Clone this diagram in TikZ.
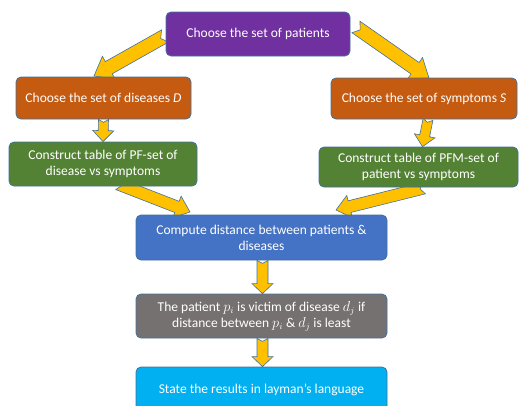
\documentclass[tikz,border=0pt]{standalone}
\usepackage{fontspec}
\setmainfont{Carlito}
\usetikzlibrary{calc}
\definecolor{cpurple}{HTML}{7030A0}
\definecolor{corange}{HTML}{C55A11}
\definecolor{cgreen}{HTML}{548235}
\definecolor{cblue}{HTML}{4472C4}
\definecolor{cgray}{HTML}{767171}
\definecolor{ccyan}{HTML}{00B0F0}
\definecolor{cyellow}{HTML}{FFC000}
\definecolor{cedge}{HTML}{41719C}
% notched block arrow between named coordinates: #1 tail, #2 tip, #3 shaft half width, #4 head half width, #5 head length, #6 notch depth
\newcommand{\blockarr}[6]{%
  \coordinate (ba-b) at ($(#2)!#5!(#1)$);
  \coordinate (ba-t1) at ($(#1)!#3!90:(#2)$);
  \coordinate (ba-t2) at ($(#1)!#3!-90:(#2)$);
  \coordinate (ba-n) at ($(#1)!#6!(#2)$);
  \coordinate (ba-s1) at ($(ba-b)!#3!-90:(#1)$);
  \coordinate (ba-s2) at ($(ba-b)!#3!90:(#1)$);
  \coordinate (ba-h1) at ($(ba-b)!#4!-90:(#1)$);
  \coordinate (ba-h2) at ($(ba-b)!#4!90:(#1)$);
  \draw[blockarrow] (ba-t1) -- (ba-n) -- (ba-t2) -- (ba-s2) -- (ba-h2) -- (#2)
    -- (ba-h1) -- (ba-s1) -- cycle;}
\begin{document}
\begin{tikzpicture}[x=1pt,y=-1pt,
  box/.style={draw=cedge, line width=0.8pt, rounded corners=5pt, text=white,
    font=\fontsize{13.5}{16}\selectfont, align=center, inner sep=0pt},
  blockarrow/.style={draw=cedge, fill=cyellow, line width=0.6pt, line join=miter}]
\useasboundingbox (0,0) rectangle (520,405);
% coordinates for diagonal arrow ends
\coordinate (a1t) at (165,36);  \coordinate (a1h) at (94,76);
\coordinate (a2t) at (356,27);  \coordinate (a2h) at (429,78);
\coordinate (a3t) at (118,184); \coordinate (a3h) at (190,212);
\coordinate (a4t) at (424,188); \coordinate (a4h) at (336,210);
\blockarr{a1t}{a1h}{7pt}{13pt}{17pt}{5pt}
\blockarr{a2t}{a2h}{7pt}{13pt}{17pt}{5pt}
\blockarr{a3t}{a3h}{6pt}{11.5pt}{14pt}{4pt}
\blockarr{a4t}{a4h}{6pt}{11.5pt}{14pt}{4pt}
% boxes
\node[box, fill=cpurple, minimum width=184pt, minimum height=44pt] (top) at (258,34) {Choose the set of patients};
\node[box, fill=corange, minimum width=175pt, minimum height=42pt] (lo) at (103.5,98) {Choose the set of diseases \textit{D}};
\node[box, fill=corange, minimum width=186pt, minimum height=41pt] (ro) at (424,98.5) {Choose the set of symptoms \textit{S}};
\node[box, fill=cgreen, minimum width=188pt, minimum height=44pt] (lg) at (103,164) {Construct table of PF-set of\\disease vs symptoms};
\node[box, fill=cgreen, minimum width=199pt, minimum height=40pt] (rg) at (418.5,167) {Construct table of PFM-set of\\patient vs symptoms};
\node[box, fill=cblue, minimum width=251pt, minimum height=45pt] (bl) at (261.5,237.5) {Compute distance between patients \&\\diseases};
\node[box, fill=cgray, minimum width=251pt, minimum height=44pt] (gr) at (261.5,316) {The patient $p_i$ is victim of disease $d_j$ if\\distance between $p_i$ \& $d_j$ is least};
\node[box, fill=ccyan, minimum width=251pt, minimum height=46pt] (cy) at (261.5,390) {State the results in layman's language};
% vertical arrows
\coordinate (v1t) at ($(lo.south)+(0,0)$);  \coordinate (v1h) at ($(lg.north)+(0,0)$);
\coordinate (v2t) at ($(ro.south)+(4,0)$);  \coordinate (v2h) at ($(rg.north)+(4,0)$);
\coordinate (v3t) at ($(bl.south)+(1,0)$);  \coordinate (v3h) at ($(gr.north)+(1,0)$);
\coordinate (v4t) at ($(gr.south)+(1,0)$);  \coordinate (v4h) at ($(cy.north)+(1,0)$);
\blockarr{v1t}{v1h}{5pt}{10.5pt}{11pt}{3pt}
\blockarr{v2t}{v2h}{5pt}{10.5pt}{11pt}{3pt}
\blockarr{v3t}{v3h}{5.5pt}{10.5pt}{10pt}{3pt}
\blockarr{v4t}{v4h}{5.5pt}{10.5pt}{10pt}{3pt}
\end{tikzpicture}
\end{document}
